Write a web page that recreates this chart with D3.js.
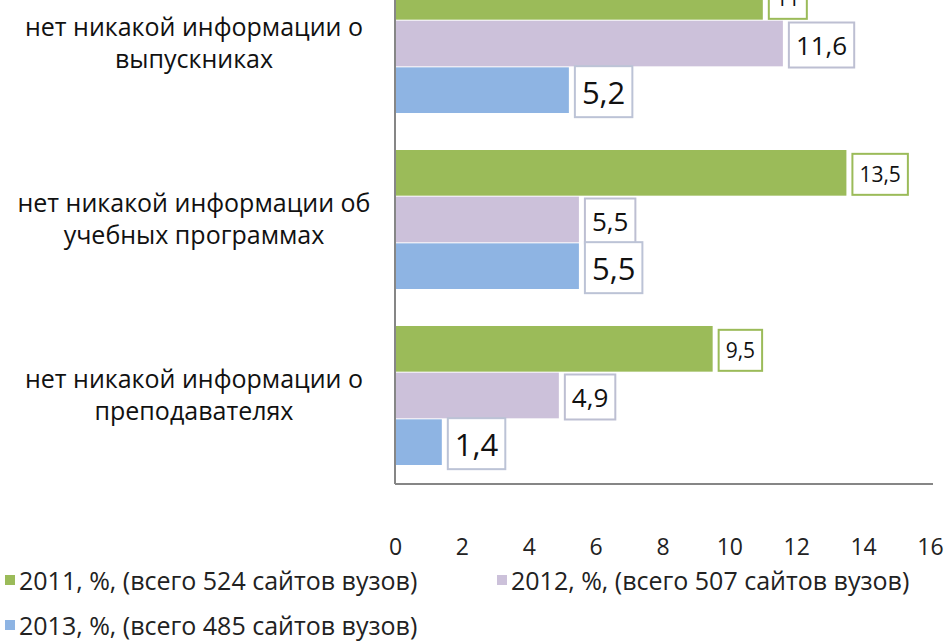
<!DOCTYPE html>
<html><head><meta charset="utf-8">
<script src="https://cdn.jsdelivr.net/npm/d3@7"></script>
<style>body{margin:0;background:#fff}svg{display:block}</style>
</head><body>
<svg id="c" width="948" height="642"></svg>
<script>
const categories = [
  ["нет никакой информации о", "выпускниках"],
  ["нет никакой информации об", "учебных программах"],
  ["нет никакой информации о", "преподавателях"]
];
const seriesNames = ["2011, %, (всего 524 сайтов вузов)", "2012, %, (всего 507 сайтов вузов)", "2013, %, (всего 485 сайтов вузов)"];
const values2011 = [11, 13.5, 9.5];
const values2012 = [11.6, 5.5, 4.9];
const values2013 = [5.2, 5.5, 1.4];
const xTicks = [0, 2, 4, 6, 8, 10, 12, 14, 16];

const colors = ["#9bbb59", "#ccc1da", "#8eb4e3"];
const boxBorders = ["#9bbb59", "#bdbfd2", "#bcc3d6"];
const labelSizes = [21, 26, 31];
const boxH = [41, 45, 51];
const seriesVals = [values2011, values2012, values2013];
const font = "'Open Sans', 'Noto Sans', sans-serif";

const svg = d3.select("#c");
const x = d3.scaleLinear().domain([0, 16]).range([395, 930]);
const y = d3.scaleBand().domain(d3.range(categories.length)).range([-44, 484])
  .paddingInner(0.2045).paddingOuter(0.1023);
const ys = d3.scaleBand().domain(d3.range(3)).range([0, y.bandwidth()]);

const fmt = v => String(v).replace(".", ",");

// bars
seriesVals.forEach((vals, s) => {
  svg.append("g").selectAll("rect").data(vals).join("rect")
    .attr("x", x(0))
    .attr("y", (d, i) => y(i) + ys(s))
    .attr("width", d => x(d) - x(0))
    .attr("height", ys.bandwidth() - 1)
    .attr("fill", colors[s]);
});

// value labels with boxes
seriesVals.forEach((vals, s) => {
  const g = svg.append("g").selectAll("g").data(vals).join("g");
  g.each(function(d, i) {
    const gg = d3.select(this);
    const t = gg.append("text")
      .attr("font-family", font)
      .attr("font-size", labelSizes[s])
      .attr("fill", "#111")
      .attr("text-anchor", "start")
      .attr("dominant-baseline", "central")
      .text(fmt(d));
    const w = t.node().getComputedTextLength();
    const bx = x(d) + 6;
    const cy = y(i) + ys(s) + ys.bandwidth() / 2 + 1;
    const pad = 7;
    gg.insert("rect", "text")
      .attr("x", bx).attr("y", cy - boxH[s] / 2)
      .attr("width", w + pad * 2).attr("height", boxH[s])
      .attr("fill", "#fff")
      .attr("stroke", boxBorders[s]).attr("stroke-width", 2);
    t.attr("x", bx + pad).attr("y", cy);
  });
});

// axis frame lines
svg.append("line").attr("x1", x(0)).attr("x2", x(0)).attr("y1", -10).attr("y2", 484)
  .attr("stroke", "#868686").attr("stroke-width", 2);
const xAxis = d3.axisBottom(x).tickValues(xTicks).tickSize(0).tickPadding(55).tickFormat(d3.format("d"));
const ax = svg.append("g").attr("transform", "translate(0,484)").call(xAxis);
ax.select(".domain").attr("stroke", "#868686").attr("stroke-width", 2).attr("d", `M${x(0)},0H${x(16) + 3}`);
ax.selectAll("text").attr("font-family", font).attr("font-size", 23).attr("fill", "#222");

// category labels
categories.forEach((lines, i) => {
  const cy = y(i) + y.bandwidth() / 2 - 2;
  const t = svg.append("text")
    .attr("font-family", font).attr("font-size", 25).attr("fill", "#111")
    .attr("text-anchor", "middle");
  lines.forEach((ln, k) => {
    t.append("tspan").attr("x", 194)
      .attr("y", cy + (k - (lines.length - 1) / 2) * 32)
      .attr("dominant-baseline", "central")
      .text(ln);
  });
});

// legend
const legendPos = [[5, 580], [497, 580], [5, 625]];
seriesNames.forEach((name, s) => {
  const [lx, ly] = legendPos[s];
  const g = svg.append("g").attr("transform", `translate(${lx},${ly})`);
  g.append("rect").attr("x", 0).attr("y", -5).attr("width", 10).attr("height", 10).attr("fill", colors[s]);
  g.append("text").attr("x", 14).attr("y", 0).attr("dominant-baseline", "central")
    .attr("font-family", font).attr("font-size", 25).attr("fill", "#222")
    .text(name);
});
</script>
</body></html>
